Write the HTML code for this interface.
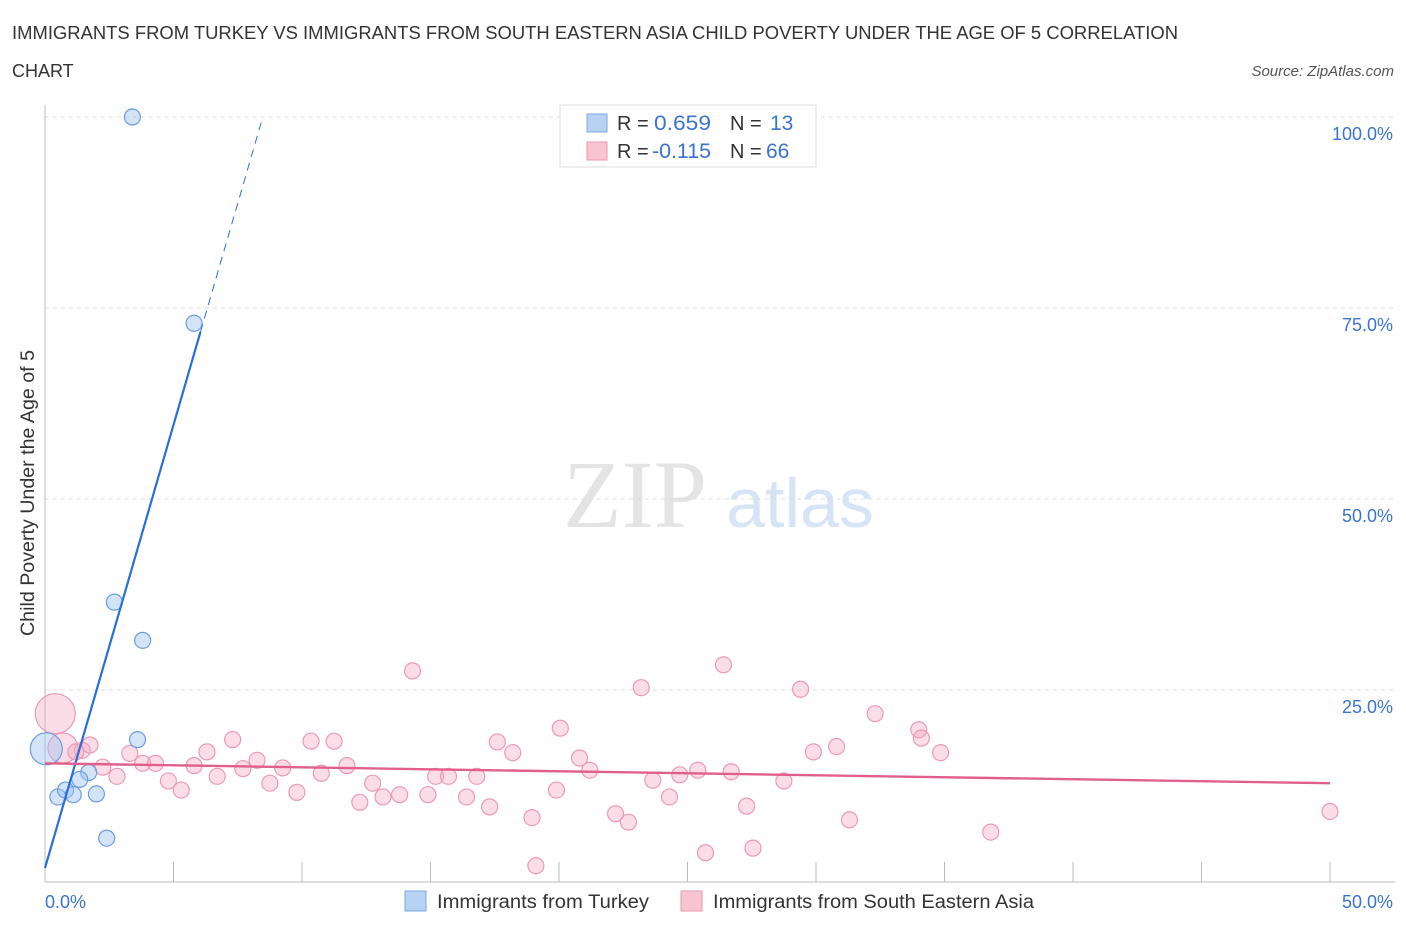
<!DOCTYPE html>
<html><head><meta charset="utf-8"><style>
body{margin:0;background:#fff;font-family:"Liberation Sans",sans-serif;}
</style></head><body>
<svg width="1406" height="930" xmlns="http://www.w3.org/2000/svg" id="chart" font-family="Liberation Sans, sans-serif">
<text x="12" y="39" font-size="18" fill="#333" textLength="1166" lengthAdjust="spacingAndGlyphs">IMMIGRANTS FROM TURKEY VS IMMIGRANTS FROM SOUTH EASTERN ASIA CHILD POVERTY UNDER THE AGE OF 5 CORRELATION</text>
<text x="12" y="77" font-size="18" fill="#333">CHART</text>
<text x="1394" y="76" font-size="15" font-style="italic" fill="#555" text-anchor="end">Source: ZipAtlas.com</text>
<text x="635" y="527" font-size="96" font-family="Liberation Serif, serif" fill="#e4e4e4" text-anchor="middle">ZIP</text>
<text x="800" y="527" font-size="70" fill="#d6e4f5" text-anchor="middle">atlas</text>
<g id="grid"></g>
<g id="axes"></g>
<g id="marks"></g>
<text transform="translate(34,493) rotate(-90)" font-size="19" fill="#333" text-anchor="middle" textLength="286" lengthAdjust="spacingAndGlyphs">Child Poverty Under the Age of 5</text>
<g>
<rect x="560" y="105" width="256" height="62" fill="#fff" stroke="#ddd"/>
<rect x="587" y="114" width="20" height="18" fill="#b8d2f4" stroke="#7aa8e0"/>
<text x="617" y="130" font-size="20" fill="#333">R = </text><text x="654" y="130" font-size="21" fill="#3a74d0" textLength="57" lengthAdjust="spacingAndGlyphs">0.659</text>
<text x="730" y="130" font-size="20" fill="#333">N = </text><text x="770" y="130" font-size="21" fill="#3a74d0">13</text>
<rect x="587" y="142" width="20" height="18" fill="#f8c4d2" stroke="#e898b0"/>
<text x="617" y="158" font-size="20" fill="#333">R = </text><text x="652" y="158" font-size="21" fill="#3a74d0" textLength="59" lengthAdjust="spacingAndGlyphs">-0.115</text>
<text x="730" y="158" font-size="20" fill="#333">N = </text><text x="766" y="158" font-size="21" fill="#3a74d0">66</text>
</g>
<g>
<rect x="405" y="891" width="21" height="20" fill="#b8d2f4" stroke="#7aa8e0"/>
<text x="437" y="908" font-size="19" fill="#333" textLength="212" lengthAdjust="spacingAndGlyphs">Immigrants from Turkey</text>
<rect x="681" y="891" width="21" height="20" fill="#f8c4d2" stroke="#e898b0"/>
<text x="713" y="908" font-size="19" fill="#333" textLength="321" lengthAdjust="spacingAndGlyphs">Immigrants from South Eastern Asia</text>
</g>
</svg>
<script>
const yTicks=[25,50,75,100];
const yTickLabels=["25.0%","50.0%","75.0%","100.0%"];
const xTicks=[0,5,10,15,20,25,30,35,40,45,50];
const turkeyX=[3.4,5.8,2.7,3.8,3.6,0.05,0.5,0.8,1.1,1.7,2.0,2.4,1.35];
const turkeyY=[100,73,36.5,31.5,18.5,17.3,11,11.9,11.3,14.2,11.4,5.6,13.3];
const turkeyR=[8,8,8,8,8,16,8,8,8,8,8,8,8];
const seaX=[0.4,0.7,1.45,1.75,1.2,2.25,2.8,3.3,3.8,4.3,4.8,5.3,5.8,6.3,6.7,7.3,7.7,8.25,8.75,9.25,9.8,10.35,10.75,11.25,11.75,12.25,12.75,13.15,13.8,14.3,14.9,15.2,15.7,16.4,16.8,17.3,17.6,18.2,18.95,19.1,19.9,20.05,20.8,21.2,22.2,22.7,23.2,23.65,24.3,24.7,25.4,25.7,26.4,26.7,27.3,27.55,28.75,29.4,29.9,30.8,31.3,32.3,34,34.1,34.85,36.8,50];
const seaY=[21.9,17.4,17.1,17.8,16.9,14.9,13.7,16.7,15.4,15.4,13.1,11.9,15.1,16.9,13.7,18.5,14.7,15.8,12.8,14.8,11.6,18.3,14.1,18.3,15.1,10.3,12.8,11,11.3,27.5,11.3,13.7,13.7,11,13.7,9.7,18.2,16.8,8.3,2,11.9,20,16.1,14.5,8.8,7.7,25.3,13.2,11,13.9,14.5,3.7,28.3,14.3,9.8,4.3,13.1,25.1,16.9,17.6,8,21.9,19.8,18.7,16.8,6.4,9.1];
const seaR=[20,15,8,8,8,8,8,8,8,8,8,8,8,8,8,8,8,8,8,8,8,8,8,8,8,8,8,8,8,8,8,8,8,8,8,8,8,8,8,8,8,8,8,8,8,8,8,8,8,8,8,8,8,8,8,8,8,8,8,8,8,8,8,8,8,8,8];
const turkeyTrend=[1.7,11.6]; // intercept, slope
const seaTrend=[15.4,-0.052];
const X0=45,X1=1330,Y0=881,Y1=117;
const sx=v=>X0+(X1-X0)*v/50, sy=v=>Y0-(Y0-Y1)*v/100;
const NS="http://www.w3.org/2000/svg";
function mk(tag,attrs,parent){const e=document.createElementNS(NS,tag);for(const k in attrs)e.setAttribute(k,attrs[k]);document.getElementById(parent).appendChild(e);return e;}
yTicks.forEach((t,i)=>{
 const g=mk('line',{x1:X0,x2:1395,y1:sy(t),y2:sy(t),stroke:'#ddd','stroke-dasharray':'4,4'},'grid');
 
 
 const l=mk('text',{x:1393,y:sy(t)+23,'font-size':18,fill:'#3a74d0','text-anchor':'end'},'grid');
 l.textContent=yTickLabels[i];
 
 
});
const ax=mk('line',{x1:X0,x2:X0,y1:105,y2:882,stroke:'#bbb'},'axes');


const bx=mk('line',{x1:X0,x2:1395,y1:882,y2:882,stroke:'#bbb'},'axes');


xTicks.forEach(t=>{const e=mk('line',{x1:sx(t),x2:sx(t),y1:862,y2:882,stroke:'#bbb'},'axes');
 
 });
const xl0=mk('text',{x:45,y:908,'font-size':18,fill:'#3a74d0'},'axes');xl0.textContent='0.0%';


const xl1=mk('text',{x:1393,y:908,'font-size':18,fill:'#3a74d0','text-anchor':'end'},'axes');xl1.textContent='50.0%';


seaX.forEach((x,i)=>{const c=mk('circle',{cx:sx(x),cy:sy(seaY[i]),r:seaR[i],fill:'rgba(244,170,194,0.4)',stroke:'#ec9ab4','stroke-width':1.2},'marks');
 
 });
turkeyX.forEach((x,i)=>{const c=mk('circle',{cx:sx(x),cy:sy(turkeyY[i]),r:turkeyR[i],fill:'rgba(160,196,240,0.45)',stroke:'#6a9de0','stroke-width':1.2},'marks');
 
 });
const tEnd=(100-turkeyTrend[0])/turkeyTrend[1], tMid=6.05;
const t1=mk('line',{x1:sx(0),y1:sy(turkeyTrend[0]),x2:sx(tMid),y2:sy(turkeyTrend[0]+turkeyTrend[1]*tMid),stroke:'#2a6fd6','stroke-width':2.2},'marks');


const t2=mk('line',{x1:sx(tMid),y1:sy(turkeyTrend[0]+turkeyTrend[1]*tMid),x2:sx(tEnd),y2:sy(100),stroke:'#2a6fd6','stroke-width':1,'stroke-dasharray':'8,6'},'marks');


const s1=mk('line',{x1:sx(0),y1:sy(seaTrend[0]),x2:sx(50),y2:sy(seaTrend[0]+seaTrend[1]*50),stroke:'#e0608a','stroke-width':2.4},'marks');


</script>
</body></html>
